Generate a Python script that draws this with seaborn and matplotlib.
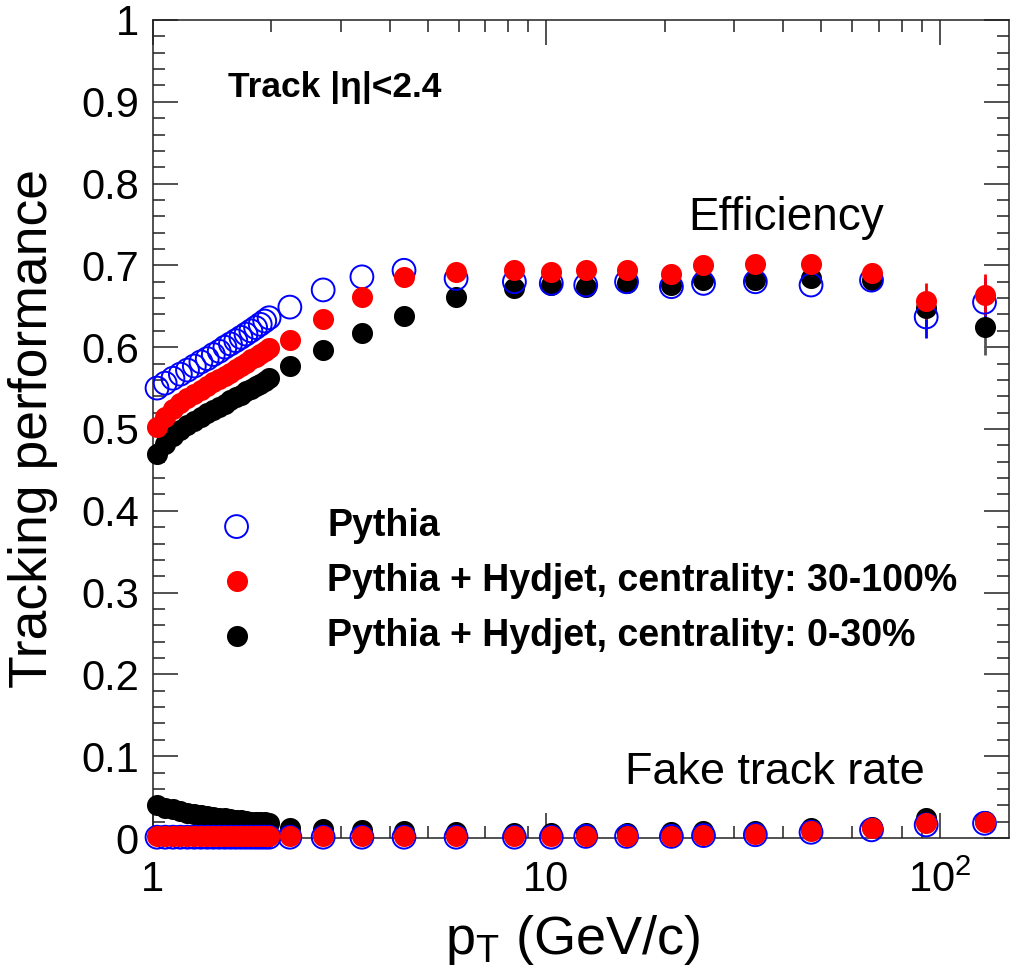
import numpy as np
import pandas as pd
import matplotlib
matplotlib.use("Agg")
import matplotlib.pyplot as plt
import seaborn as sns
from matplotlib.ticker import FixedLocator, FixedFormatter, NullFormatter

# ---------------- data ----------------
pt = [1.025, 1.075, 1.125, 1.175, 1.225, 1.275, 1.325, 1.375, 1.425, 1.475,
      1.525, 1.575, 1.625, 1.675, 1.725, 1.775, 1.825, 1.875, 1.925, 1.975,
      2.23, 2.71, 3.40, 4.35, 5.90, 8.30, 10.3, 12.6, 16.0, 20.8, 25.1, 34.0,
      47.1, 67.1, 92.4, 130.0]

eff_pythia = [0.550, 0.556, 0.562, 0.567, 0.572, 0.577, 0.582, 0.586, 0.591, 0.595,
              0.600, 0.604, 0.608, 0.612, 0.616, 0.620, 0.624, 0.628, 0.632, 0.636,
              0.649, 0.670, 0.686, 0.694, 0.684, 0.680, 0.678, 0.676, 0.680, 0.674,
              0.678, 0.680, 0.676, 0.682, 0.637, 0.655]
eff_hyd_30_100 = [0.502, 0.515, 0.525, 0.532, 0.538, 0.543, 0.548, 0.553, 0.557, 0.561,
                  0.565, 0.569, 0.573, 0.577, 0.581, 0.585, 0.588, 0.592, 0.595, 0.599,
                  0.609, 0.634, 0.661, 0.686, 0.692, 0.694, 0.692, 0.694, 0.694, 0.689,
                  0.700, 0.702, 0.702, 0.691, 0.657, 0.664]
eff_hyd_0_30 = [0.469, 0.482, 0.492, 0.499, 0.505, 0.510, 0.515, 0.519, 0.523, 0.527,
                0.531, 0.535, 0.539, 0.542, 0.546, 0.549, 0.552, 0.555, 0.559, 0.562,
                0.577, 0.597, 0.617, 0.638, 0.661, 0.672, 0.676, 0.674, 0.678, 0.676,
                0.682, 0.682, 0.684, 0.682, 0.648, 0.625]

err_pythia = [0]*32 + [0.004, 0.006, 0.026, 0.030]
err_hyd_30_100 = [0]*32 + [0.004, 0.006, 0.022, 0.025]
err_hyd_0_30 = [0]*32 + [0.004, 0.008, 0.022, 0.035]

fake_pythia = [0.001]*20 + [0.001, 0.001, 0.001, 0.001, 0.001, 0.001, 0.001, 0.002,
                            0.002, 0.002, 0.003, 0.004, 0.007, 0.010, 0.016, 0.018]
fake_hyd_30_100 = [0.002]*20 + [0.002, 0.002, 0.002, 0.002, 0.002, 0.002, 0.002, 0.003,
                                0.003, 0.003, 0.004, 0.005, 0.009, 0.012, 0.018, 0.020]
fake_hyd_0_30 = [0.040, 0.037, 0.035, 0.033, 0.031, 0.029, 0.028, 0.027, 0.026, 0.025,
                 0.024, 0.023, 0.022, 0.022, 0.021, 0.020, 0.020, 0.019, 0.019, 0.018,
                 0.012, 0.011, 0.010, 0.008, 0.007, 0.006, 0.006, 0.006, 0.006, 0.007,
                 0.008, 0.008, 0.012, 0.014, 0.024, 0.021]

labels = ["Pythia",
          "Pythia + Hydjet, centrality: 30-100%",
          "Pythia + Hydjet, centrality: 0-30%"]
x_ticks = [1, 10, 100]
x_ticklabels = ["1", "10", r"$10^{2}$"]
y_ticks = [0.0, 0.1, 0.2, 0.3, 0.4, 0.5, 0.6, 0.7, 0.8, 0.9, 1.0]
y_ticklabels = ["0", "0.1", "0.2", "0.3", "0.4", "0.5", "0.6", "0.7", "0.8", "0.9", "1"]

# ---------------- style ----------------
sns.set_theme(style="ticks")
plt.rcParams["font.family"] = ["Liberation Sans", "DejaVu Sans"]
plt.rcParams["mathtext.fontset"] = "custom"
plt.rcParams["mathtext.rm"] = "Liberation Sans"
plt.rcParams["mathtext.it"] = "Liberation Sans"
plt.rcParams["mathtext.bf"] = "Liberation Sans:bold"
for k in ["text.color", "axes.labelcolor", "xtick.color", "ytick.color",
          "xtick.labelcolor", "ytick.labelcolor", "axes.edgecolor"]:
    plt.rcParams[k] = "black"

fig = plt.figure(figsize=(10.12, 9.75), dpi=100)
ax = fig.add_axes([0.151, 0.1405, 0.846, 0.839])

df = pd.DataFrame({"pt": pt,
                   "eff_p": eff_pythia, "eff_r": eff_hyd_30_100, "eff_b": eff_hyd_0_30,
                   "fk_p": fake_pythia, "fk_r": fake_hyd_30_100, "fk_b": fake_hyd_0_30})

S = 230
# error bars
ax.errorbar(df["pt"], df["eff_b"], yerr=err_hyd_0_30, fmt="none", ecolor="#555555",
            elinewidth=2, zorder=2, clip_on=False)
ax.errorbar(df["pt"], df["eff_p"], yerr=err_pythia, fmt="none", ecolor="blue",
            elinewidth=2, zorder=2, clip_on=False)
ax.errorbar(df["pt"], df["eff_r"], yerr=err_hyd_30_100, fmt="none", ecolor="red",
            elinewidth=2, zorder=2, clip_on=False)

# 0-30% (black)
sns.scatterplot(data=df, x="pt", y="eff_b", ax=ax, marker="o", s=S, color="black",
                edgecolor="black", linewidth=0, zorder=3, clip_on=False, label=labels[2])
sns.scatterplot(data=df, x="pt", y="fk_b", ax=ax, marker="o", s=S, color="black",
                edgecolor="black", linewidth=0, zorder=3, clip_on=False)
# Pythia (open blue)
sns.scatterplot(data=df, x="pt", y="eff_p", ax=ax, marker="o", s=S + 40, color="blue",
                facecolor="none", edgecolor="blue", linewidth=1.4, zorder=4,
                clip_on=False, label=labels[0])
sns.scatterplot(data=df, x="pt", y="fk_p", ax=ax, marker="o", s=S + 40, color="blue",
                facecolor="none", edgecolor="blue", linewidth=1.4, zorder=4, clip_on=False)
# 30-100% (red)
sns.scatterplot(data=df, x="pt", y="eff_r", ax=ax, marker="o", s=S, color="red",
                edgecolor="red", linewidth=0, zorder=5, clip_on=False, label=labels[1])
sns.scatterplot(data=df, x="pt", y="fk_r", ax=ax, marker="o", s=S, color="red",
                edgecolor="red", linewidth=0, zorder=5, clip_on=False)

ax.set_xscale("log")
ax.set_xlim(1.0, 150)
ax.set_ylim(0, 1)

ax.xaxis.set_major_locator(FixedLocator(x_ticks))
ax.xaxis.set_major_formatter(FixedFormatter(x_ticklabels))
minor_x = [m * d for d in (1, 10, 100) for m in range(2, 10) if m * d < 150]
ax.xaxis.set_minor_locator(FixedLocator(minor_x))
ax.xaxis.set_minor_formatter(NullFormatter())
ax.yaxis.set_major_locator(FixedLocator(y_ticks))
ax.yaxis.set_major_formatter(FixedFormatter(y_ticklabels))
ax.yaxis.set_minor_locator(FixedLocator(np.arange(0, 1.0001, 0.02)))

ax.tick_params(which="both", direction="in", top=True, right=True, color="#222222",
               width=1.1)
ax.tick_params(which="major", length=18, labelsize=30)
ax.tick_params(which="minor", length=8.5)
ax.tick_params(axis="x", which="major", pad=16)
ax.tick_params(axis="y", which="major", pad=10)
for sp in ax.spines.values():
    sp.set_color("#222222")
    sp.set_linewidth(1.1)

ax.set_ylabel("Tracking performance", fontsize=38.5)
ax.yaxis.set_label_coords(-0.140, 0.5)
ax.yaxis.label.set_va("center")
ax.set_xlabel(r"p$_{\mathregular{T}}$ (GeV/c)", fontsize=39)
ax.xaxis.set_label_coords(0.49, -0.125)
ax.xaxis.label.set_va("center")

ax.text(0.0876, 0.917, "Track |η|<2.4", transform=ax.transAxes, fontsize=25.5,
        fontweight="bold", va="center", ha="left")
ax.text(0.625, 0.758, "Efficiency", transform=ax.transAxes, fontsize=33,
        va="center", ha="left")
ax.text(0.551, 0.0795, "Fake track rate", transform=ax.transAxes, fontsize=32.4,
        va="center", ha="left")

h, l = ax.get_legend_handles_labels()
order = [l.index(lab) for lab in labels]
leg = ax.legend([h[i] for i in order], [l[i] for i in order], loc="center left",
                bbox_to_anchor=(0.077, 0.314), frameon=False,
                prop={"weight": "bold", "size": 27}, handlelength=0.95,
                handletextpad=1.95, labelspacing=0.5, borderpad=0, borderaxespad=0)

fig.savefig("out.png", dpi=100)
